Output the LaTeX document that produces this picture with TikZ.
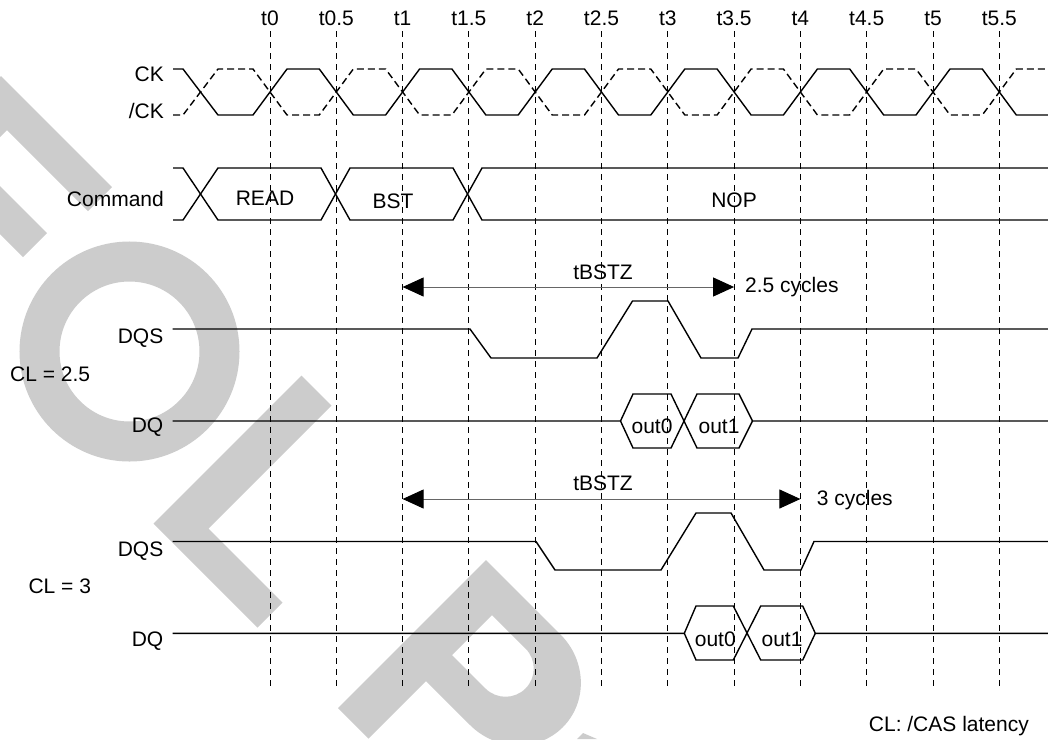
\documentclass[tikz,border=0pt]{standalone}
\usepackage{fontspec}
\setmainfont{Liberation Sans}
\usetikzlibrary{arrows.meta,calc,positioning}

\tikzset{
  sig/.style={line width=1.4pt},
  nsig/.style={sig, dash pattern=on 7pt off 4pt},
  guide/.style={line width=0.9pt, dash pattern=on 6pt off 5pt},
  span/.style={line width=1pt, black!60,
    {Triangle[length=21pt,width=19pt,color=black]}-{Triangle[length=21pt,width=19pt,color=black]}},
  wmark/.style={fill=black!20, draw=none},
  lbl/.style={inner sep=0pt, anchor=base east},
  txt/.style={inner sep=0pt, anchor=base},
}

\begin{document}
\begin{tikzpicture}[x=1pt,y=-1pt,font=\fontsize{21}{25}\selectfont]
    \useasboundingbox (0,0) rectangle (1048,739);
    \fill[white] (0,0) rectangle (1048,739);

    % watermark
    \begin{scope}
        \clip (0,0) rectangle (1048,739);
        \begin{scope}[cm={0.5,-0.5,0.5,0.5,(0,0)}]
            \fill[wmark] (77,75) -- (299,75) -- (299,123) -- (137,123) -- (137,186) -- (280,186)
                -- (280,234) -- (137,234) -- (137,370) -- (77,370) -- cycle;
            \fill[wmark] (677,74) -- (737,74) -- (737,320) -- (885,320) -- (885,370) -- (677,370) -- cycle;
            \fill[wmark, even odd rule] (1046,74) -- (1195,74) .. controls (1247.5,74) and (1290,114.5) .. (1290,164.5)
                .. controls (1290,214.5) and (1247.5,255) .. (1195,255) -- (1107,255) -- (1107,370) -- (1046,370) -- cycle
                (1107,123) -- (1174,123) .. controls (1196,123) and (1214,141) .. (1214,163)
                .. controls (1214,185) and (1196,203) .. (1174,203) -- (1107,203) -- cycle;
        \end{scope}
        \draw[black!20, line width=40pt] (129.5,351.5) circle[radius=90pt];
        \fill[wmark] (583,733) -- (597,739) -- (577,739) -- cycle;
    \end{scope}

    % time marks
    \foreach \k/\lab in {0/t0,1/t0.5,2/t1,3/t1.5,4/t2,5/t2.5,6/t3,7/t3.5,8/t4,9/t4.5,10/t5,11/t5.5} {
        \coordinate (top\k) at ({270+66.3*\k},31);
        \coordinate (bot\k) at ({270+66.3*\k},688);
        \node[txt] (lab\k) at ({270+66.3*\k},25) {\lab};
        \draw[guide] (top\k) -- (bot\k);
    }

    % clock
    \node[lbl] (ck) at (164,81) {CK};
    \node[lbl] (nck) at (164,118) {/CK};
    \draw[sig] (173,69) -- (183,69) -- (218,115)
        \foreach \c in {0,...,5} { -- ({270+132.6*\c-17},115) -- ({270+132.6*\c+17},69)
        -- ({336.3+132.6*\c-17},69) -- ({336.3+132.6*\c+17},115) } -- (1048,115);
    \draw[nsig] (173,115) -- (183,115) -- (218,69)
        \foreach \c in {0,...,5} { -- ({270+132.6*\c-17},69) -- ({270+132.6*\c+17},115)
        -- ({336.3+132.6*\c-17},115) -- ({336.3+132.6*\c+17},69) } -- (1048,69);

    % command bus
    \node[lbl] (cmd) at (164,206.5) {Command};
    \draw[sig] (173,168) -- (183,168) -- (218,220) -- (321,220) -- (350,168) -- (453,168) -- (482,220) -- (1048,220);
    \draw[sig] (173,220) -- (183,220) -- (218,168) -- (321,168) -- (350,220) -- (453,220) -- (482,168) -- (1048,168);
    \node[txt] (read) at (265,205) {READ};
    \node[txt] (bst) at (393,208) {BST};
    \node[txt] (nop) at (734,207) {NOP};

    % CL = 2.5
    \coordinate (za) at (0,287);
    \draw[span] (top2 |- za) -- (top7 |- za);
    \node[txt] (bz1) at (603,279) {tBSTZ};
    \node[inner sep=0pt, anchor=base west] (cy1) at (745,292) {2.5 cycles};
    \node[inner sep=0pt, anchor=base west] (cl1) at (10,381.5) {CL = 2.5};
    \node[lbl] (dqs1) at (163.5,343) {DQS};
    \draw[sig] (172.5,329) -- (470,329) -- (491,358) -- (597,358) -- (632.5,301) -- (668,301)
        -- (701,358) -- (738,358) -- (752,329) -- (1048,329);
    \node[lbl] (dq1) at (163.5,432) {DQ};
    \draw[sig] (172.5,421) -- (620.5,421) -- (633,448) -- (671,448) -- (697,394) -- (739,394) -- (752.5,421) -- (1048,421);
    \draw[sig] (620.5,421) -- (633,394) -- (671,394) -- (697,448) -- (739,448) -- (752.5,421);
    \node[txt] (d10) at (652,433) {out0};
    \node[txt] (d11) at (719,433) {out1};

    % CL = 3
    \coordinate (zb) at (0,499);
    \draw[span] (top2 |- zb) -- (top8 |- zb);
    \node[txt] (bz2) at (603,490) {tBSTZ};
    \node[inner sep=0pt, anchor=base west] (cy2) at (816.7,505) {3 cycles};
    \node[inner sep=0pt, anchor=base west] (cl2) at (28.3,593) {CL = 3};
    \node[lbl] (dqs2) at (163.5,556) {DQS};
    \draw[sig] (172.5,541.5) -- (536,541.5) -- (555,570) -- (661,570) -- (696,513) -- (731,513)
        -- (764,570) -- (801,570) -- (814,541.5) -- (1048,541.5);
    \node[lbl] (dq2) at (163.5,646) {DQ};
    \draw[sig] (172.5,633.3) -- (684.3,633.3) -- (696,660) -- (733.3,660) -- (760.7,606) -- (802.7,606) -- (815.3,633.3) -- (1048,633.3);
    \draw[sig] (684.3,633.3) -- (696,606) -- (733.3,606) -- (760.7,660) -- (802.7,660) -- (815.3,633.3);
    \node[txt] (d20) at (715.3,646) {out0};
    \node[txt] (d21) at (782,646) {out1};

    \node[lbl] (note) at (1029,731) {CL: /CAS latency};
\end{tikzpicture}
\end{document}
